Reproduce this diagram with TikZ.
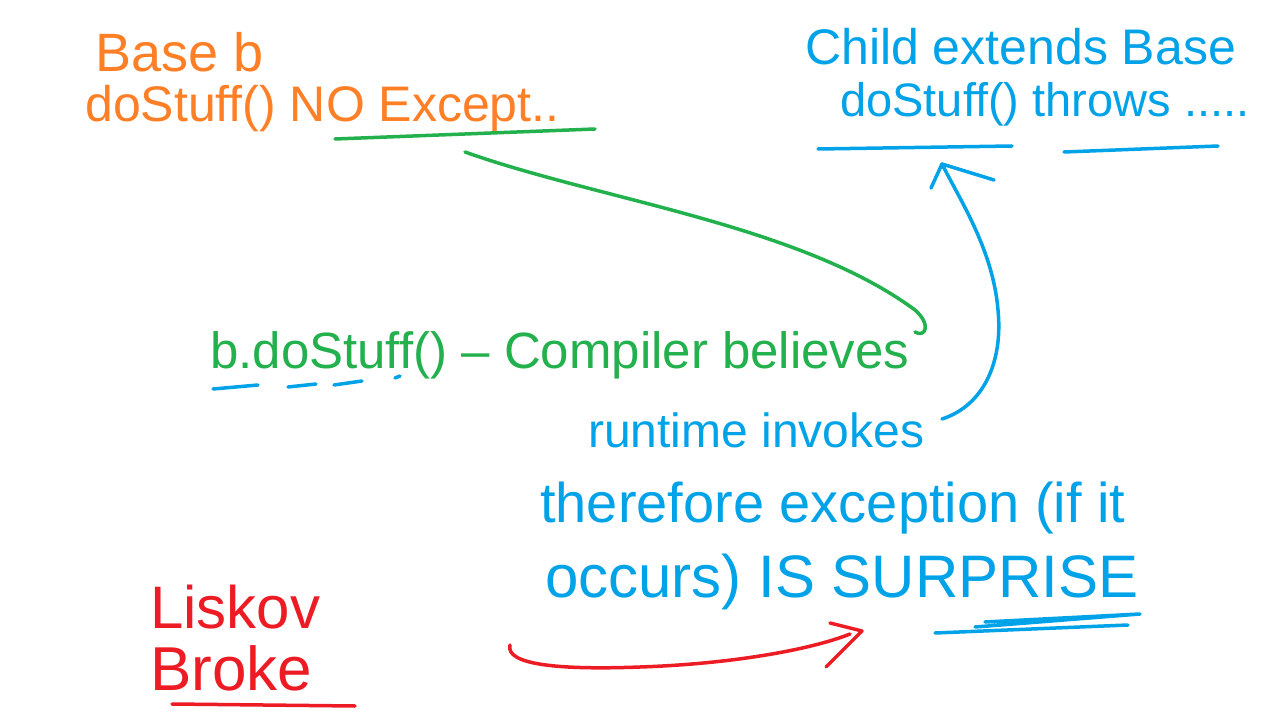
\documentclass[tikz,border=0pt]{standalone}
\usepackage{fontspec}
\setmainfont{Liberation Sans}
\definecolor{worange}{RGB}{255,127,39}
\definecolor{wgreen}{RGB}{34,177,76}
\definecolor{wblue}{RGB}{0,162,232}
\definecolor{wred}{RGB}{237,28,36}
\newcommand{\fs}[1]{\fontsize{#1}{#1}\selectfont}
\begin{document}
\begin{tikzpicture}[x=1pt,y=-1pt,
  txt/.style={anchor=base west, inner sep=0pt},
  pen/.style={line width=3.5pt, line cap=round, line join=round}]
\useasboundingbox (0,0) rectangle (1283,722);
\fill[white] (0,0) rectangle (1283,722);

% orange: Base
\node[txt, text=worange] (base) at (95,72) {\fs{54}Base b};
\node[txt, text=worange] (basecall) at (85,122) {\fs{50}doStuff() NO Except..};
\draw[pen, wgreen] (335,139) -- (595,129);

% blue: Child
\node[txt, text=wblue] (child) at (805,65) {\fs{50}Child extends Base};
\node[txt, text=wblue] (childcall) at (840,117) {\fs{47}doStuff() throws .....};
\draw[pen, wblue] (818,149) -- (1012,146);
\draw[pen, wblue] (1064,152) -- (1218,146);
\coordinate (childul) at (942,164);

% green: compiler believes
\node[txt, text=wgreen] (call) at (210,368) {\fs{51}b.doStuff() -- Compiler believes};
\draw[pen, wblue] (213,389) -- (258,385);
\draw[pen, wblue] (288,387) -- (316,384);
\draw[pen, wblue] (334,385) -- (362,381);
\draw[pen, wblue] (395,378) -- (400,376);

% blue: runtime
\node[txt, text=wblue] (runtime) at (588,447) {\fs{48}runtime invokes};
\node[txt, text=wblue] (therefore) at (540,522) {\fs{56}therefore exception (if it};
\node[txt, text=wblue] (surprise) at (545,597) {\fs{60}occurs) IS SURPRISE};
\draw[pen, wblue] (985,622) -- (1140,614) -- (975,627);
\draw[pen, wblue] (935,633) -- (1128,625);

% red: Liskov
\node[txt, text=wred] (liskov) at (150,628) {\fs{60}Liskov};
\node[txt, text=wred] (broke) at (150,690) {\fs{62}Broke};
\draw[pen, wred] (172,704) -- (355,706);

% connectors
\coordinate (gstart) at (465,152);
\coordinate (gend) at (915,310);
\draw[pen, wgreen] (gstart) .. controls (600,200) and (800,225) .. (gend)
  .. controls (932,325) and (925,338) .. (915,332);

\coordinate (bstart) at (942,419);
\draw[pen, wblue] (bstart) .. controls (985,405) and (1003,360) .. (998,310)
  .. controls (993,250) and (960,200) .. (childul);
\draw[pen, wblue] (931,188) -- (childul) -- (994,180);

\coordinate (rstart) at (510,645);
\coordinate (rend) at (850,634);
\draw[pen, wred] (rstart) .. controls (505,665) and (560,670) .. (640,667)
  .. controls (730,664) and (810,650) .. (rend);
\draw[pen, wred] (830,623) -- (862,631) -- (826,667);
\end{tikzpicture}
\end{document}
